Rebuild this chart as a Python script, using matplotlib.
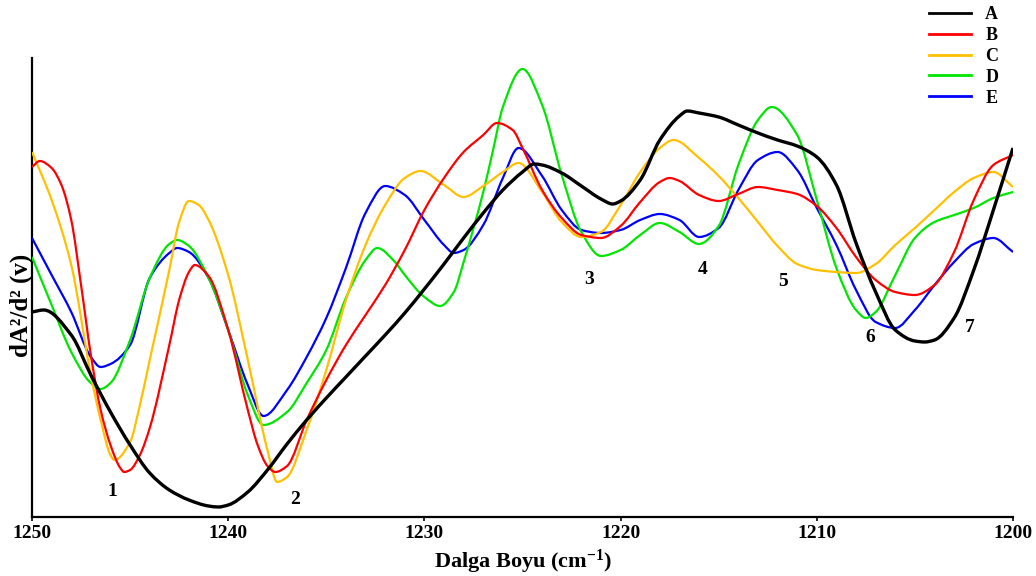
import matplotlib
matplotlib.use("Agg")
import matplotlib.pyplot as plt
from matplotlib.path import Path
from matplotlib.patches import PathPatch
from matplotlib.lines import Line2D

# Wavelength (cm-1) and second-derivative values (arbitrary units)
a_x = [1250, 1249.4, 1248, 1247, 1246, 1245, 1244, 1243, 1242, 1241, 1240.5, 1240, 1239, 1238, 1237, 1236,
       1235, 1234, 1233, 1232, 1231, 1230, 1229, 1228, 1227, 1226, 1225, 1224.4, 1224, 1223, 1222, 1221,
       1220.4, 1220, 1219, 1218, 1217, 1216.6, 1216, 1215, 1214, 1213, 1212, 1211, 1210, 1209, 1208, 1207,
       1206, 1205, 1204.5, 1204, 1203, 1202, 1201, 1200]
a_y = [2.05, 2.07, 1.82, 1.42, 1.05, 0.72, 0.44, 0.27, 0.17, 0.11, 0.10, 0.12, 0.25, 0.47, 0.73, 0.97,
       1.19, 1.40, 1.61, 1.82, 2.04, 2.28, 2.53, 2.79, 3.04, 3.27, 3.45, 3.53, 3.52, 3.44, 3.31, 3.18,
       3.13, 3.16, 3.37, 3.77, 4.01, 4.06, 4.04, 4.00, 3.92, 3.84, 3.77, 3.71, 3.60, 3.32, 2.74, 2.25,
       1.87, 1.76, 1.75, 1.77, 1.99, 2.47, 3.07, 3.69]

b_x = [1250, 1249.6, 1249, 1248.5, 1248, 1247.5, 1247, 1246.5, 1246, 1245.5, 1245.3, 1245, 1244.5, 1244,
       1243, 1242.5, 1242, 1241.7, 1241, 1240, 1239, 1238.5, 1238, 1237.6, 1237, 1236, 1235, 1234, 1233,
       1232, 1231, 1230, 1229, 1228, 1227, 1226.3, 1225.5, 1225, 1224, 1223, 1222, 1221, 1220, 1219, 1218,
       1217.5, 1217, 1216, 1215, 1214, 1213, 1212, 1211, 1210, 1209, 1208, 1207, 1206, 1205, 1204, 1203,
       1202, 1201, 1200]
b_y = [3.50, 3.56, 3.49, 3.32, 2.97, 2.32, 1.62, 1.07, 0.72, 0.49, 0.45, 0.47, 0.62, 0.89,
       1.72, 2.17, 2.45, 2.52, 2.41, 1.87, 1.07, 0.72, 0.51, 0.45, 0.51, 0.97, 1.37, 1.72, 2.02,
       2.32, 2.67, 3.07, 3.39, 3.65, 3.82, 3.94, 3.87, 3.69, 3.27, 2.99, 2.82, 2.79, 2.91, 3.15, 3.35,
       3.39, 3.36, 3.22, 3.16, 3.23, 3.30, 3.27, 3.23, 3.11, 2.89, 2.60, 2.37, 2.25, 2.22, 2.32, 2.65,
       3.17, 3.52, 3.62]

c_x = [1250, 1249, 1248, 1247, 1246.5, 1246, 1245.8, 1245, 1244.5, 1244, 1243, 1242.5, 1242, 1241.5, 1241,
       1240, 1239, 1238, 1237.5, 1237, 1236, 1235, 1234, 1233, 1232, 1231, 1230.2, 1229, 1228, 1227, 1226,
       1225.2, 1224, 1223, 1222, 1221, 1220, 1219, 1218, 1217.3, 1216, 1215, 1214, 1213, 1212, 1211, 1210,
       1209, 1208, 1207, 1206, 1205, 1204, 1203, 1202, 1201, 1200]
c_y = [3.65, 3.17, 2.52, 1.42, 0.97, 0.62, 0.57, 0.75, 1.12, 1.57, 2.47, 2.95, 3.16, 3.12, 2.97,
       2.42, 1.57, 0.67, 0.35, 0.40, 0.87, 1.47, 2.17, 2.72, 3.12, 3.39, 3.46, 3.32, 3.20, 3.31, 3.45,
       3.54, 3.25, 2.95, 2.80, 2.85, 3.12, 3.45, 3.69, 3.77, 3.59, 3.41, 3.19, 2.95, 2.71, 2.53, 2.47,
       2.45, 2.44, 2.53, 2.72, 2.89, 3.07, 3.25, 3.39, 3.45, 3.30]

d_x = [1250, 1249, 1248, 1247, 1246.5, 1246, 1245, 1244, 1243, 1242.6, 1242, 1241, 1240, 1239, 1238.2,
       1237, 1236, 1235, 1234, 1233, 1232.4, 1231.5, 1231, 1230, 1229.2, 1228.5, 1228, 1227, 1226.5, 1226,
       1225, 1224, 1223, 1222, 1221, 1220, 1219, 1218, 1217, 1216, 1215, 1214, 1213, 1212.3, 1211, 1210,
       1209, 1208, 1207.5, 1207, 1206, 1205, 1204, 1203, 1202, 1201, 1200]
d_y = [2.60, 2.12, 1.65, 1.34, 1.28, 1.34, 1.77, 2.39, 2.73, 2.77, 2.71, 2.39, 1.87, 1.22, 0.92,
       1.05, 1.34, 1.67, 2.19, 2.57, 2.69, 2.55, 2.42, 2.20, 2.11, 2.25, 2.55, 3.25, 3.67, 4.10,
       4.48, 4.12, 3.42, 2.85, 2.61, 2.67, 2.82, 2.94, 2.85, 2.73, 2.91, 3.52, 3.97, 4.10, 3.82, 3.17,
       2.49, 2.07, 1.99, 2.05, 2.42, 2.79, 2.95, 3.02, 3.09, 3.19, 3.25]

e_x = [1250, 1249, 1248, 1247, 1246.5, 1246, 1245, 1244, 1243, 1242.6, 1242, 1241, 1240, 1239, 1238.2,
       1237, 1236, 1235, 1234, 1233, 1232, 1231, 1230, 1229, 1228.5, 1228, 1227, 1226, 1225.2, 1224,
       1223, 1222, 1221, 1220, 1219, 1218, 1217, 1216, 1215, 1214, 1213, 1212, 1211, 1210, 1209, 1208,
       1207, 1206, 1205, 1204, 1203, 1202, 1201, 1200]
e_y = [2.79, 2.42, 2.05, 1.60, 1.50, 1.53, 1.72, 2.39, 2.64, 2.69, 2.65, 2.39, 1.87, 1.32, 1.01,
       1.27, 1.60, 1.99, 2.49, 3.04, 3.31, 3.22, 2.97, 2.72, 2.64, 2.67, 2.92, 3.39, 3.69, 3.41,
       3.07, 2.87, 2.84, 2.87, 2.97, 3.03, 2.97, 2.80, 2.89, 3.27, 3.57, 3.65, 3.47, 3.09, 2.72, 2.27,
       1.95, 1.89, 2.07, 2.32, 2.55, 2.73, 2.79, 2.65]

series_labels = ["A", "B", "C", "D", "E"]
peak_labels = ["1", "2", "3", "4", "5", "6", "7"]
peak_x = [1245.9, 1236.6, 1221.6, 1215.8, 1211.7, 1207.3, 1202.2]
peak_y = [0.26, 0.18, 2.38, 2.47, 2.35, 1.80, 1.89]
x_ticks = [1250, 1240, 1230, 1220, 1210, 1200]

serif = ["Liberation Serif", "DejaVu Serif"]
plt.rcParams["font.family"] = serif
plt.rcParams["font.weight"] = "bold"
plt.rcParams["mathtext.fontset"] = "custom"
plt.rcParams["mathtext.rm"] = "Liberation Serif:bold"
plt.rcParams["mathtext.bf"] = "Liberation Serif:bold"
plt.rcParams["mathtext.it"] = "Liberation Serif:bold:italic"


def smooth_path(xs, ys):
    """Smoothed line (cubic Bezier segments) through the data points."""
    n = len(xs)
    h = [xs[k + 1] - xs[k] for k in range(n - 1)]
    d = [(ys[k + 1] - ys[k]) / h[k] for k in range(n - 1)]
    m = [0.0] * n
    m[0] = d[0]
    m[-1] = d[-1]
    for k in range(1, n - 1):
        if d[k - 1] * d[k] <= 0:
            m[k] = 0.0
        else:
            w1 = 2 * h[k] + h[k - 1]
            w2 = h[k] + 2 * h[k - 1]
            m[k] = (w1 + w2) / (w1 / d[k - 1] + w2 / d[k])
    verts = [(xs[0], ys[0])]
    codes = [Path.MOVETO]
    for k in range(n - 1):
        t = h[k] / 3.0
        verts += [(xs[k] + t, ys[k] + m[k] * t),
                  (xs[k + 1] - t, ys[k + 1] - m[k + 1] * t),
                  (xs[k + 1], ys[k + 1])]
        codes += [Path.CURVE4] * 3
    return Path(verts, codes)


fig = plt.figure(figsize=(10.36, 5.76), dpi=100)
ax = fig.add_axes([32 / 1036, 59 / 576, 981 / 1036, 459 / 576])

colors = ["#000000", "#FF0000", "#FFC000", "#00E600", "#0000FF"]
widths = [2.4, 1.6, 1.6, 1.6, 1.6]
data = [(a_x, a_y), (b_x, b_y), (c_x, c_y), (d_x, d_y), (e_x, e_y)]
for i in [4, 3, 2, 1, 0]:
    xs, ys = data[i]
    patch = PathPatch(smooth_path(xs, ys), facecolor="none", edgecolor=colors[i],
                      lw=widths[i], joinstyle="round", capstyle="butt", zorder=3 + (i == 0))
    ax.add_patch(patch)

ax.set_xlim(1250, 1200)
ax.set_ylim(0, 4.59)
ax.set_xticks(x_ticks)
ax.set_xticklabels([str(t) for t in x_ticks], fontsize=14, fontweight="bold")
ax.set_yticks([])
ax.tick_params(axis="x", direction="out", length=3, width=1.2, pad=3)
for s in ["top", "right"]:
    ax.spines[s].set_visible(False)
for s in ["left", "bottom"]:
    ax.spines[s].set_linewidth(1.6)

ax.set_xlabel("Dalga Boyu (cm$^{-1}$)", fontsize=16, fontweight="bold", labelpad=4)
ax.set_ylabel("dA²/d² (v)", fontsize=18, fontweight="bold")
ax.yaxis.set_label_coords(0.001, 0.462)

for lab, px, py in zip(peak_labels, peak_x, peak_y):
    ax.text(px, py, lab, fontsize=14, fontweight="bold", ha="center", va="center")

handles = [Line2D([], [], color=colors[i], lw=2) for i in range(5)]
leg = fig.legend(handles, series_labels, loc="upper left",
                 bbox_to_anchor=(913 / 1036, 1.018), frameon=False,
                 handlelength=2.3, labelspacing=0.22, handletextpad=0.8,
                 prop={"family": serif, "weight": "bold", "size": 13})

fig.savefig("out.png", dpi=100)
